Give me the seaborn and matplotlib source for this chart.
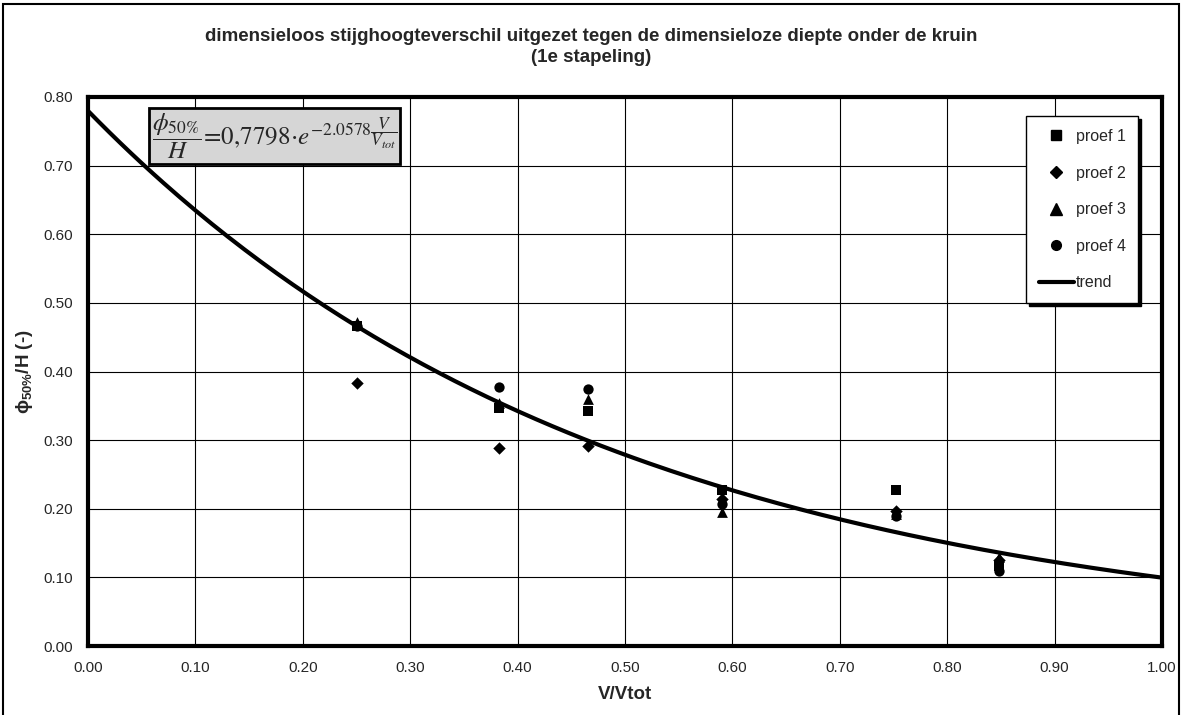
import numpy as np
import pandas as pd
import seaborn as sns
import matplotlib.pyplot as plt
from matplotlib.patches import Rectangle
from matplotlib.lines import Line2D

# Data
v_ratio = [0.250, 0.383, 0.466, 0.590, 0.752, 0.848]
proef_1 = [0.467, 0.347, 0.343, 0.227, 0.228, 0.117]
proef_2 = [0.383, 0.289, 0.291, 0.214, 0.197, 0.125]
proef_3 = [0.472, 0.354, 0.360, 0.195, 0.192, 0.130]
proef_4 = [0.466, 0.378, 0.374, 0.207, 0.189, 0.110]
series_names = ['proef 1', 'proef 2', 'proef 3', 'proef 4']

# trend: phi/H = a * exp(b * V/Vtot)
trend_a = 0.7798
trend_b = -2.0578

sns.set_style('white')
plt.rcParams['font.family'] = ['Liberation Sans', 'DejaVu Sans']
plt.rcParams['mathtext.fontset'] = 'custom'
plt.rcParams['mathtext.rm'] = 'Liberation Sans'
plt.rcParams['mathtext.it'] = 'Liberation Sans:italic'
plt.rcParams['mathtext.bf'] = 'Liberation Sans:bold'

rows = []
for name, vals in zip(series_names, [proef_1, proef_2, proef_3, proef_4]):
    for x, y in zip(v_ratio, vals):
        rows.append({'V/Vtot': x, 'phi': y, 'proef': name})
df = pd.DataFrame(rows)

x_trend = np.linspace(0, 1, 200)
trend = pd.DataFrame({'V/Vtot': x_trend, 'phi': trend_a * np.exp(trend_b * x_trend)})

fig = plt.figure(figsize=(11.83, 7.15), dpi=100)
ax = fig.add_axes([88 / 1183, 1 - 646 / 715, (1162 - 88) / 1183, (646 - 97) / 715])

markers = {'proef 1': 's', 'proef 2': 'D', 'proef 3': '^', 'proef 4': 'o'}
sizes = {'proef 1': 55, 'proef 2': 40, 'proef 3': 60, 'proef 4': 55}
for name in series_names:
    sub = df[df['proef'] == name]
    sns.scatterplot(data=sub, x='V/Vtot', y='phi', marker=markers[name], s=sizes[name],
                    color='black', edgecolor='black', linewidth=0, ax=ax, zorder=4)
sns.lineplot(data=trend, x='V/Vtot', y='phi', color='black', linewidth=3, ax=ax, zorder=3)

ax.set_xlim(0, 1)
ax.set_ylim(0, 0.8)
ax.set_xticks(np.arange(0, 1.01, 0.1))
ax.set_yticks(np.arange(0, 0.81, 0.1))
ax.set_xticklabels([f'{t:.2f}' for t in np.arange(0, 1.01, 0.1)], fontsize=11)
ax.set_yticklabels([f'{t:.2f}' for t in np.arange(0, 0.81, 0.1)], fontsize=11)
ax.grid(True, color='black', linewidth=0.8)
ax.tick_params(direction='out', length=5, width=1, color='black', pad=6)
for sp in ax.spines.values():
    sp.set_color('black')
    sp.set_linewidth(3)

ax.set_xlabel('V/Vtot', fontsize=13.5, fontweight='bold', labelpad=8)
ax.set_ylabel(r'$\mathbf{\phi_{50\%}}$/H (-)', fontsize=13.5, fontweight='bold', labelpad=6)

fig.suptitle('dimensieloos stijghoogteverschil uitgezet tegen de dimensieloze diepte onder de kruin\n(1e stapeling)',
             fontsize=13.5, fontweight='bold', x=0.5, y=1 - 28 / 715, va='top', linespacing=1.3)

# equation box
ax.text(0.06, 0.975,
        r'$\dfrac{\phi_{50\%}}{H}\!=\!0{,}7798\!\cdot\! e^{-2.0578\dfrac{V}{V_{tot}}}$',
        transform=ax.transAxes, ha='left', va='top', fontsize=18, family='DejaVu Serif',
        math_fontfamily='stix',
        bbox=dict(boxstyle='square,pad=0.12', facecolor='#d6d6d6', edgecolor='black', linewidth=2),
        zorder=6)

handles = [Line2D([], [], linestyle='none', marker=markers[n], color='black',
                  markersize={'proef 1': 7, 'proef 2': 6, 'proef 3': 8, 'proef 4': 7}[n]) for n in series_names]
handles.append(Line2D([], [], color='black', linewidth=3))
leg = ax.legend(handles, series_names + ['trend'], loc='upper right', bbox_to_anchor=(0.978, 0.965),
                fontsize=11.5, frameon=True, fancybox=False, edgecolor='black', labelspacing=1.35,
                handlelength=2.2, handletextpad=0.1, borderpad=0.8, borderaxespad=0,
                shadow={'color': 'black', 'alpha': 1, 'ox': 2, 'oy': -2})
leg.get_frame().set_linewidth(1)
leg.set_zorder(7)

# outer chart frame
fig.add_artist(Rectangle((3 / 1183, -0.1), 1 - 7 / 1183, 1.1 - 4 / 715, transform=fig.transFigure,
                         fill=False, edgecolor='black', linewidth=1.5, clip_on=False))

plt.savefig('out.png', dpi=100)
